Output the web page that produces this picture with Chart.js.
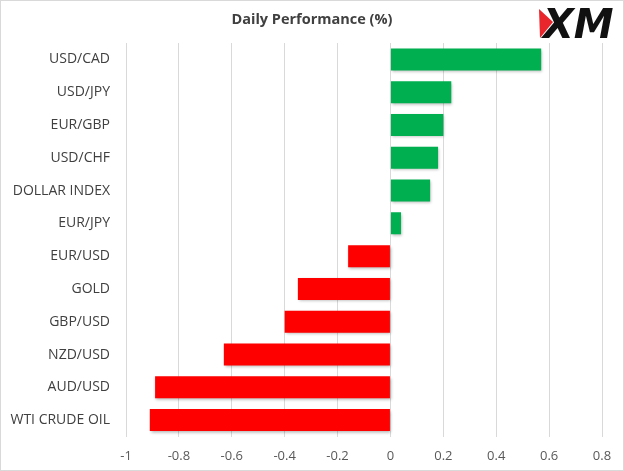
<!DOCTYPE html>
<html>
<head>
<meta charset="utf-8">
<script src="https://cdn.jsdelivr.net/npm/chart.js@4.4.0/dist/chart.umd.min.js"></script>
<style>
  html, body { margin: 0; padding: 0; background: #fff; }
  #wrap { width: 624px; height: 471px; }
</style>
</head>
<body>
<div id="wrap"><canvas id="myChart" width="624" height="471"></canvas></div>
<script>
'use strict';

let instruments = ['USD/CAD', 'USD/JPY', 'EUR/GBP', 'USD/CHF', 'DOLLAR INDEX', 'EUR/JPY',
  'EUR/USD', 'GOLD', 'GBP/USD', 'NZD/USD', 'AUD/USD', 'WTI CRUDE OIL'];
let changes = [0.57, 0.23, 0.20, 0.18, 0.15, 0.04, -0.16, -0.35, -0.40, -0.63, -0.89, -0.91];
let tickValues = [-1, -0.8, -0.6, -0.4, -0.2, 0, 0.2, 0.4, 0.6, 0.8];
let chartTitle = 'Daily Performance (%)';

let barColors = changes.map(v => v >= 0 ? '#00b050' : '#ff0000');

// frame, title and logo
let decor = {
  id: 'decor',
  beforeDraw(chart) {
    let ctx = chart.ctx;
    ctx.save();
    ctx.fillStyle = '#fff';
    ctx.fillRect(0, 0, chart.width, chart.height);
    ctx.strokeStyle = '#d9d9d9';
    ctx.lineWidth = 1;
    ctx.strokeRect(0.5, 0.5, chart.width - 1, chart.height - 1);
    ctx.restore();
  },
  beforeDatasetsDraw(chart) {
    // soft drop shadow like the office chart
    let ctx = chart.ctx;
    ctx.save();
    ctx.shadowColor = 'rgba(0,0,0,0.3)';
    ctx.shadowBlur = 3;
    ctx.shadowOffsetX = 1;
    ctx.shadowOffsetY = 1.5;
  },
  afterDatasetsDraw(chart) {
    chart.ctx.restore();
  },
  afterDraw(chart) {
    let ctx = chart.ctx;
    ctx.save();
    ctx.fillStyle = '#404040';
    ctx.font = 'bold 14.5px "Open Sans"';
    ctx.textAlign = 'center';
    ctx.textBaseline = 'middle';
    ctx.fillText(chartTitle, 312, 20);

    ctx.fillStyle = '#e8262b';
    ctx.beginPath();
    ctx.moveTo(539, 9);
    ctx.lineTo(553, 22);
    ctx.lineTo(540, 38);
    ctx.closePath();
    ctx.fill();
    ctx.fillStyle = '#111';
    ctx.font = 'italic 900 40px "DejaVu Sans"';
    ctx.textAlign = 'left';
    ctx.textBaseline = 'alphabetic';
    ctx.fillText('XM', 543, 38);
    ctx.restore();
  }
};

let ctx = document.getElementById('myChart').getContext('2d');
let myChart = new Chart(ctx, {
  type: 'bar',
  data: {
    labels: instruments,
    datasets: [{
      data: changes,
      backgroundColor: barColors,
      borderWidth: 0,
      barPercentage: 0.67,
      categoryPercentage: 1
    }]
  },
  options: {
    indexAxis: 'y',
    responsive: false,
    animation: false,
    layout: { padding: { top: 43, right: 22, left: 0, bottom: 0 } },
    plugins: { legend: { display: false }, tooltip: { enabled: false } },
    scales: {
      x: {
        min: -1,
        max: 0.8,
        afterBuildTicks(scale) { scale.ticks = tickValues.map(v => ({ value: v })); },
        afterFit(scale) { scale.height = 34.5; },
        grid: { color: '#d9d9d9', drawTicks: false },
        border: { display: false },
        ticks: {
          padding: 12,
          color: '#595959',
          font: { family: 'Open Sans', size: 13 },
          callback: v => String(Math.round(v * 10) / 10)
        }
      },
      y: {
        afterFit(scale) { scale.width = 126; },
        grid: { display: false, drawTicks: false },
        border: { display: false },
        ticks: {
          padding: 16,
          color: '#404040',
          font: { family: 'Open Sans', size: 14 }
        }
      }
    }
  },
  plugins: [decor]
});
</script>
</body>
</html>
